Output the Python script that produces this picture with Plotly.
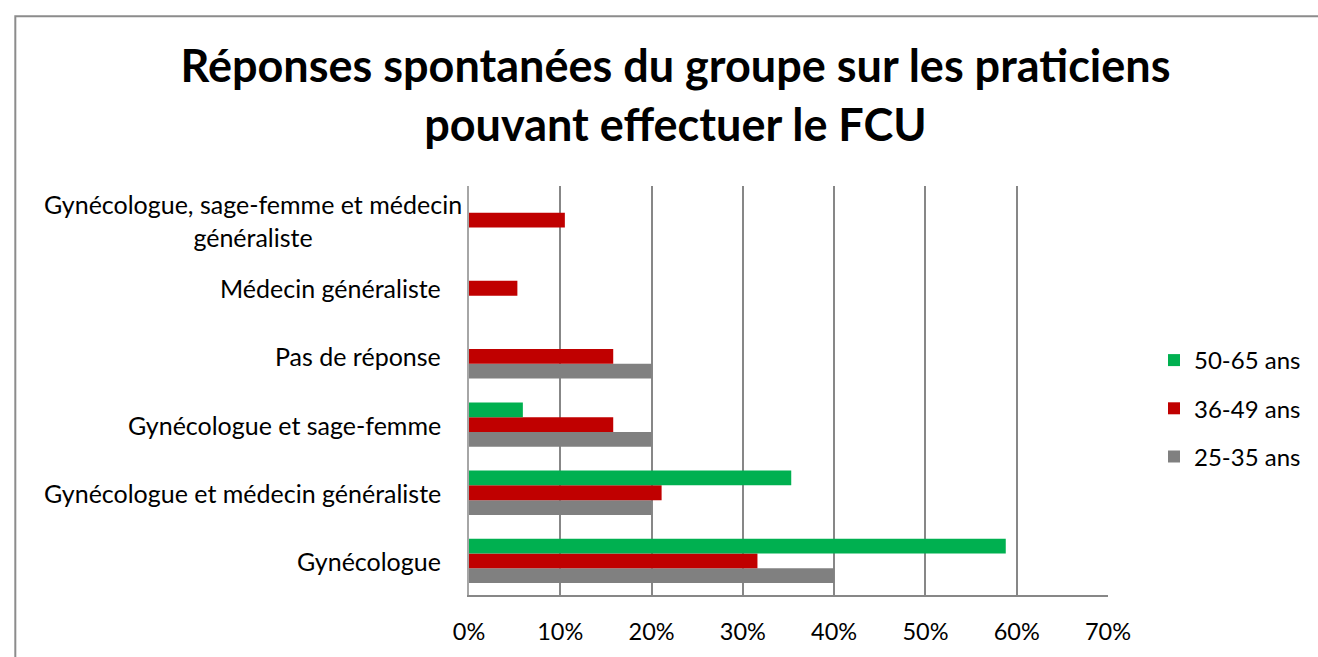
import plotly.graph_objects as go

categories = [
    "Gynécologue",
    "Gynécologue et médecin généraliste",
    "Gynécologue et sage-femme",
    "Pas de réponse",
    "Médecin généraliste",
    "Gynécologue, sage-femme et médecin<br>généraliste",
]
age_25_35 = [0.40, 0.20, 0.20, 0.20, 0.0, 0.0]
age_36_49 = [0.316, 0.211, 0.158, 0.158, 0.053, 0.105]
age_50_65 = [0.588, 0.353, 0.059, 0.0, 0.0, 0.0]
x_ticks = [0, 0.1, 0.2, 0.3, 0.4, 0.5, 0.6, 0.7]
x_labels = ["0%", "10%", "20%", "30%", "40%", "50%", "60%", "70%"]

FONT = "Lato"
GRID = "#878787"

fig = go.Figure()
series = [
    ("25-35 ans", age_25_35, "#808080", 3),
    ("36-49 ans", age_36_49, "#C00000", 2),
    ("50-65 ans", age_50_65, "#00B050", 1),
]
for name, vals, col, rank in series:
    fig.add_trace(go.Bar(
        y=list(range(len(categories))), x=vals, name=name, orientation="h",
        marker=dict(color=col, line=dict(width=0)),
        legendgroup=name, legendrank=rank,
    ))

# category labels: multi-line ones are centred as a block, like in Excel
for i, lab in enumerate(categories):
    multi = "<br>" in lab
    fig.add_annotation(
        x=-0.338 if multi else -0.04, xref="paper", y=i, yref="y",
        text=lab, showarrow=False,
        xanchor="center" if multi else "right", yanchor="middle", align="center",
        font=dict(family=FONT, size=25, color="#000000"),
    )

# outer chart frame (right and bottom edges fall outside the picture)
fig.add_shape(type="rect", xref="paper", yref="paper",
              x0=-0.71, x1=1.5, y0=-0.3, y1=1.415,
              line=dict(color="#8c8c8c", width=2), fillcolor="rgba(0,0,0,0)")

fig.update_layout(
    width=1318, height=657,
    margin=dict(l=469, r=196, t=186, b=54),
    paper_bgcolor="white", plot_bgcolor="white",
    title=dict(
        text="<b>Réponses spontanées du groupe sur les praticiens<br>pouvant effectuer le FCU</b>",
        x=0.5125, xanchor="center", y=0.875, yanchor="middle",
        font=dict(family=FONT, size=45, color="#000000"),
    ),
    barmode="group", bargap=0.35, bargroupgap=0,
    xaxis=dict(
        range=[0, 0.7], tickvals=x_ticks, ticktext=x_labels,
        showgrid=True, gridcolor=GRID, gridwidth=1.5,
        showline=True, linecolor=GRID, linewidth=1.5,
        ticks="outside", ticklen=0, zeroline=False,
        tickfont=dict(family=FONT, size=23.5, color="#000000"),
        fixedrange=True, ticklabelstandoff=15,
    ),
    yaxis=dict(
        range=[-0.5, len(categories) - 0.5], showticklabels=False,
        showgrid=False, zeroline=False, fixedrange=True,
        showline=True, linecolor="#a6a6a6", linewidth=1.5,
    ),
    legend=dict(
        x=1.072, xanchor="left", y=0.456, yanchor="middle",
        traceorder="grouped", tracegroupgap=14,
        font=dict(family=FONT, size=24, color="#000000"),
        itemwidth=30, bgcolor="rgba(0,0,0,0)",
    ),
    showlegend=True,
)

fig.write_html(
    "out.html",
    config={"displayModeBar": False},
    post_script=(
        "document.documentElement.style.margin='0';"
        "document.documentElement.style.overflow='hidden';"
        "document.body.style.margin='0';"
        "document.body.style.overflow='hidden';"
    ),
)
